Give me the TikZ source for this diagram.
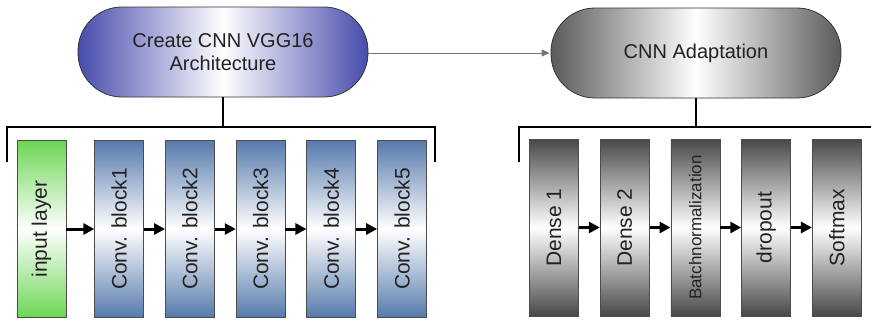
\documentclass[tikz,border=0pt]{standalone}
\usepackage{fontspec}
\setmainfont{Liberation Sans}
\usepackage{graphicx}
\usetikzlibrary{positioning}
\usetikzlibrary{arrows.meta}

\definecolor{pillblue}{RGB}{70,76,172}
\definecolor{steel}{RGB}{86,122,172}
\definecolor{lgreen}{RGB}{108,214,84}
\definecolor{dgrey}{RGB}{72,72,72}
\definecolor{txt}{RGB}{34,34,34}

\tikzset{
  pill/.style={draw=black!80, line width=0.8pt, rounded corners=44pt,
    minimum width=290pt, minimum height=90pt, align=center, text=txt,
    font=\fontsize{20}{23}\selectfont},
  block/.style={draw=black!70, line width=0.7pt, minimum width=49pt,
    minimum height=177pt, inner sep=0pt, text=txt,
    font=\fontsize{21}{24}\selectfont},
  inbox/.style={block, top color=lgreen, bottom color=lgreen, middle color=white},
  convbox/.style={block, top color=steel, bottom color=steel, middle color=white},
  densebox/.style={block, top color=dgrey, bottom color=dgrey, middle color=white},
  flow/.style={line width=3pt, -{Triangle[length=11pt,width=11pt]}},
  brk/.style={line width=2.8pt},
}

\begin{document}
\begin{tikzpicture}[x=1pt, y=-1pt, node distance=21pt]
  \useasboundingbox (0,0) rectangle (871,322);

  \node [pill, left color=pillblue, right color=pillblue, middle color=white]
    (vgg) at (223,52) {Create CNN VGG16\\Architecture};
  \node [pill, left color=dgrey!90, right color=dgrey!90, middle color=white]
    (adapt) at (696,53) {CNN Adaptation};

  \draw [black!55, line width=0.9pt, -{Triangle[length=8pt,width=7pt]}, shorten >=1pt]
    (vgg.east |- adapt) -- (adapt.west);

  % VGG16 part
  \node [inbox] (in) at (41.5,229) {\rotatebox{90}{input layer}};
  \node [convbox, right=28pt of in] (cb1) {\rotatebox{90}{Conv. block1}};
  \node [convbox, right=of cb1] (cb2) {\rotatebox{90}{Conv. block2}};
  \node [convbox, right=of cb2] (cb3) {\rotatebox{90}{Conv. block3}};
  \node [convbox, right=of cb3] (cb4) {\rotatebox{90}{Conv. block4}};
  \node [convbox, right=of cb4] (cb5) {\rotatebox{90}{Conv. block5}};

  \draw [flow] (in) -- (cb1);
  \draw [flow] (cb1) -- (cb2);
  \draw [flow] (cb2) -- (cb3);
  \draw [flow] (cb3) -- (cb4);
  \draw [flow] (cb4) -- (cb5);

  \coordinate (lbl) at (7,162);
  \coordinate (lbr) at (435,162);
  \draw [brk] (vgg.south) -- (vgg.south |- 0,127);
  \draw [brk] (lbl) |- (vgg.south |- 0,127) -| (lbr);

  % adaptation part
  \node [densebox] (d1) at (554,227.5) {\rotatebox{90}{Dense 1}};
  \node [densebox, right=of d1] (d2) {\rotatebox{90}{Dense 2}};
  \node [densebox, right=of d2, font=\fontsize{17}{20}\selectfont] (bn) {\rotatebox{90}{Batchnormalization}};
  \node [densebox, right=of bn] (drop) {\rotatebox{90}{dropout}};
  \node [densebox, right=of drop] (soft) {\rotatebox{90}{Softmax}};

  \draw [flow] (d1) -- (d2);
  \draw [flow] (d2) -- (bn);
  \draw [flow] (bn) -- (drop);
  \draw [flow] (drop) -- (soft);

  \coordinate (rbl) at (519,162);
  \coordinate (rbr) at (871,127);
  \draw [brk] (adapt.south) -- (adapt.south |- rbr);
  \draw [brk] (rbl) |- (rbr);
\end{tikzpicture}
\end{document}
